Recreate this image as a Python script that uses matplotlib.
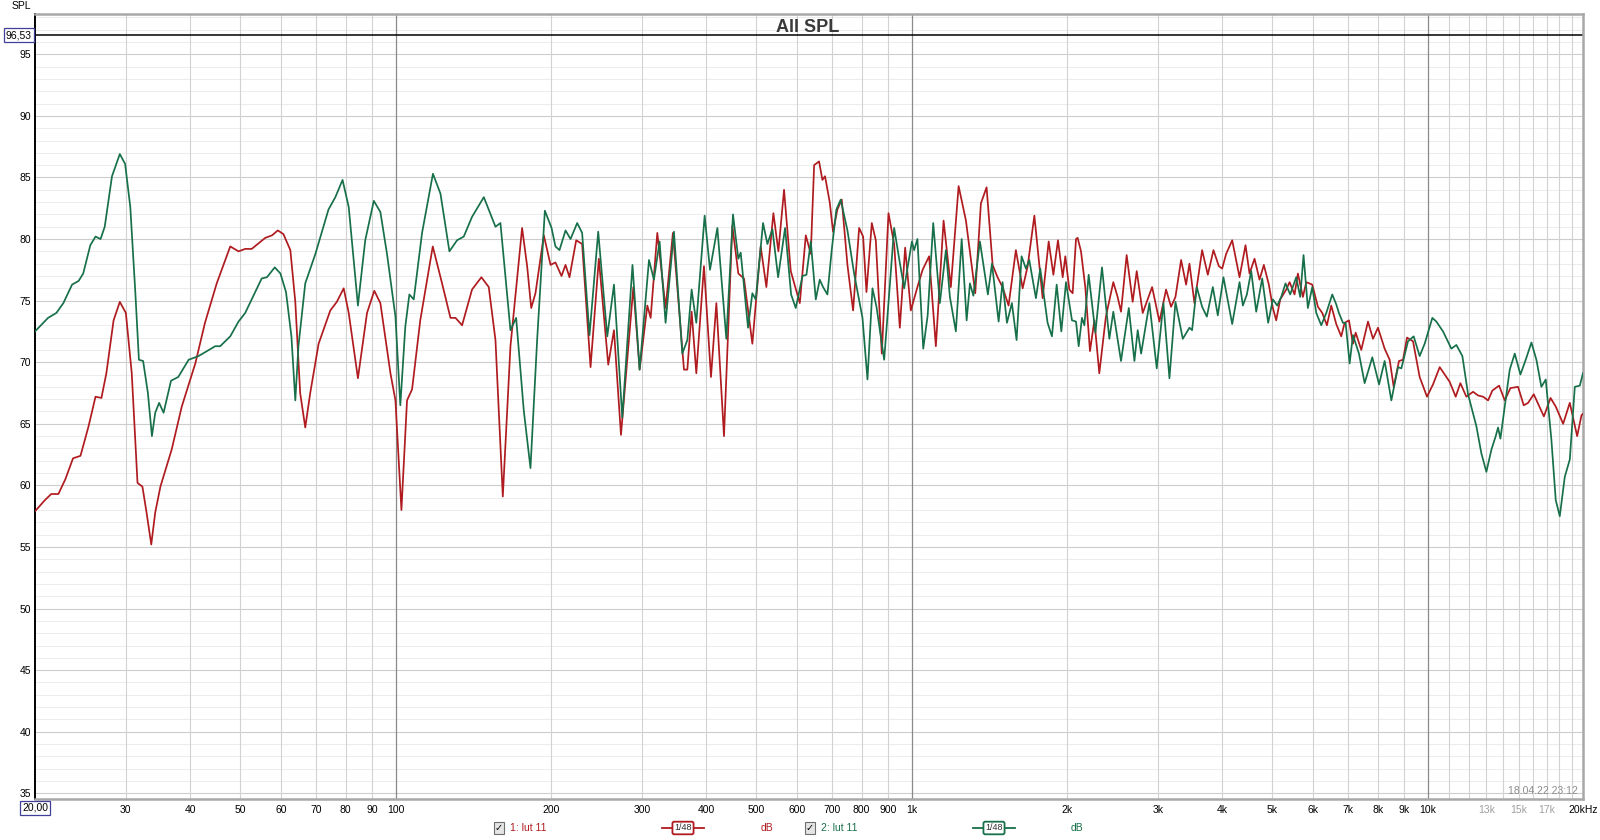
import matplotlib.pyplot as plt
from matplotlib.lines import Line2D

plt.rcParams['font.family'] = ['Liberation Sans', 'DejaVu Sans']

# measurement 1 (red) : (frequency Hz, SPL dB)
red_pts = [
    (20, 57.9), (20.9, 58.8), (21.5, 59.3), (22.2, 59.3), (22.9, 60.5), (23.7, 62.2), (24.5, 62.4), (25.4, 64.8),
    (26.2, 67.2), (26.9, 67.1), (27.5, 69.1), (28.4, 73.4), (29.2, 74.9), (30.0, 74.0), (30.8, 69.1), (31.6, 60.2),
    (32.3, 59.9), (32.9, 57.8), (33.6, 55.2), (34.2, 57.8), (35.0, 59.9), (36.8, 62.9), (38.5, 66.4), (40.9, 69.9),
    (42.7, 73.2), (45.0, 76.4), (47.8, 79.4), (49.6, 79.0), (51.1, 79.2), (52.6, 79.2), (55.9, 80.1), (57.6, 80.3),
    (59.1, 80.7), (60.6, 80.4), (62.5, 79.1), (63.9, 74.9),
    (65.3, 67.5), (66.8, 64.7), (68.3, 67.5), (70.9, 71.5), (74.7, 74.2), (76.9, 74.9), (79.3, 76.0), (81.1, 74.0),
    (84.5, 68.7), (88.0, 74.0), (90.9, 75.8), (93.4, 74.8), (97.7, 69.1), (99.9, 66.9), (102.6, 58.0), (105.2, 66.9),
    (107.6, 67.8), (111.6, 73.4), (118.0, 79.4), (123.0, 76.4), (127.7, 73.6), (130.6, 73.6), (134.5, 73.0),
    (140.6, 75.9), (146.6, 76.9), (151.5, 76.1), (156.1, 71.8), (161.3, 59.1), (166.9, 71.3), (175.8, 80.9),
    (179.8, 77.8), (183.1, 74.4), (186.6, 75.6), (193.7, 80.3), (199.6, 77.9), (204.0, 78.1),
    (209.6, 77.0), (213.4, 77.9), (217.2, 76.9), (223.8, 79.9), (229.8, 79.6), (238.6, 69.6), (247.6, 78.4),
    (258.2, 69.8), (264.9, 72.6), (273.3, 64.1), (288.8, 76.1), (297.0, 69.4), (307.4, 74.6), (312.0, 73.6),
    (321.4, 80.5), (333.5, 74.4), (344.6, 80.5), (362.0, 69.4), (367.5, 69.4), (374.6, 74.1), (382.5, 69.1),
    (395.8, 77.8), (408.4, 68.8), (418.3, 74.8), (432.8, 64.0), (449.2, 81.1), (461.4, 77.2), (473.2, 76.8),
    (491.2, 71.5), (509.8, 79.4), (522.9, 76.1), (539.5, 82.1), (551.7, 79.0), (565.8, 84.0), (583.0, 77.4),
    (607.0, 74.8), (623.5, 80.3), (637.5, 78.8), (647.1, 86.0),
    (661.5, 86.3), (671.4, 84.8), (679.4, 85.1), (693.7, 83.0), (704.1, 80.6), (717.9, 82.4), (732.0, 83.2),
    (750.8, 77.9), (770.0, 74.2), (791.0, 80.9), (805.2, 80.2), (817.3, 75.7), (837.0, 81.3), (852.1, 79.9),
    (875.2, 70.7), (901.7, 82.1), (924.8, 79.6), (948.5, 72.8), (971.3, 79.3), (996.3, 74.2), (1026, 76.1),
    (1050, 77.5), (1081, 78.6), (1114, 71.3), (1153, 81.5), (1191, 76.1), (1233, 84.3), (1274, 81.5),
    (1328, 75.6), (1362, 82.9), (1397, 84.2), (1435, 77.9), (1467, 76.9), (1500, 76.1), (1541, 74.6),
    (1592, 79.1), (1641, 76.0), (1678, 77.8), (1729, 81.9), (1794, 75.2), (1843, 79.8), (1882, 77.1),
    (1921, 79.9), (1962, 76.9), (1985, 78.6), (2021, 75.9), (2051, 75.6), (2082, 80.0),
    (2097, 80.1), (2129, 79.0), (2170, 76.1), (2216, 70.9), (2260, 73.4), (2310, 69.1), (2379, 73.7),
    (2459, 76.5), (2507, 75.3), (2545, 74.1), (2610, 78.7), (2681, 74.9), (2730, 77.4), (2804, 74.0),
    (2924, 76.1), (3021, 73.3), (3112, 75.9), (3182, 74.5), (3245, 75.3), (3328, 78.3), (3403, 76.3),
    (3454, 78.0), (3532, 74.8), (3655, 79.1), (3749, 77.1), (3845, 79.1), (3938, 77.8), (3997, 77.6),
    (4069, 78.8), (4180, 79.9), (4319, 76.9), (4436, 79.5), (4516, 77.2), (4618, 78.4), (4722, 76.7),
    (4814, 77.9), (4923, 76.3), (5012, 74.4), (5087, 73.4), (5179, 75.1), (5320, 75.9), (5400, 76.5),
    (5521, 75.5), (5604, 77.2), (5731, 75.3), (5817, 76.5), (5975, 76.3), (6128, 74.5), (6248, 74.0),
    (6379, 73.0), (6503, 74.6), (6650, 73.1),
    (6800, 72.1), (6903, 73.2), (7038, 73.4), (7165, 71.5), (7252, 72.4), (7436, 71.0), (7662, 73.3),
    (7835, 71.9), (8011, 72.8), (8253, 71.1), (8440, 70.2), (8593, 68.0), (8799, 70.1), (8958, 70.2),
    (9120, 72.0), (9367, 71.7), (9649, 68.8), (9970, 67.2), (10242, 68.2), (10552, 69.6), (10791, 69.0),
    (11034, 68.4), (11332, 67.2), (11571, 68.3), (11885, 67.2), (12246, 67.6), (12523, 67.3), (12806, 67.2),
    (13095, 66.9), (13349, 67.7), (13753, 68.1), (14105, 66.9), (14466, 67.9), (14970, 68.0), (15352, 66.5),
    (15654, 66.7), (16054, 67.4), (16797, 65.6), (17303, 67.1), (17710, 66.4), (18303, 65.0), (18855, 66.7),
    (19484, 64.0), (19868, 65.7), (20000, 65.8),
]

# measurement 2 (green)
green_pts = [
    (20, 72.5), (21.2, 73.6), (22.0, 74.0), (22.7, 74.8), (23.6, 76.3), (24.3, 76.6), (24.8, 77.2), (25.6, 79.5),
    (26.2, 80.2), (26.8, 80.0), (27.3, 81.0), (28.2, 85.1), (29.2, 86.9), (29.9, 86.1), (30.6, 82.6), (31.3, 75.6),
    (31.8, 70.2), (32.4, 70.1), (33.1, 67.5), (33.7, 64.0), (34.2, 65.9), (34.8, 66.7), (35.5, 65.9), (36.7, 68.5),
    (37.9, 68.8), (39.7, 70.2), (41.5, 70.5), (44.7, 71.3), (45.7, 71.3), (47.8, 72.1), (49.6, 73.3), (51.1, 74.0),
    (55.0, 76.8), (56.3, 76.9), (58.3, 77.7), (59.8, 77.2), (61.3, 75.7), (62.8, 72.1), (63.9, 66.9),
    (64.8, 71.3), (66.8, 76.4), (69.9, 78.8), (74.1, 82.4), (76.4, 83.4), (78.9, 84.8), (81.1, 82.6), (84.5, 74.6),
    (87.3, 79.9), (90.7, 83.1), (93.4, 82.2), (96.2, 78.8), (99.9, 73.7), (102.1, 66.5), (104.4, 72.9),
    (106.3, 75.5), (108.4, 75.1), (112.5, 80.5), (118.1, 85.3), (122.1, 83.7), (127.1, 79.0), (131.5, 79.9),
    (135.5, 80.2), (140.6, 81.8), (148.2, 83.4), (156.1, 81.0), (159.6, 81.3), (166.9, 72.6), (171.2, 73.6),
    (177.1, 66.1), (182.5, 61.4), (188.0, 71.8), (194.6, 82.3), (200.5, 80.9), (204.0, 79.4),
    (207.7, 79.1), (213.4, 80.7), (218.2, 80.0), (224.8, 81.3), (229.8, 80.5), (237.5, 72.2), (246.9, 80.6),
    (257.1, 72.1), (264.9, 76.3), (274.9, 65.5), (287.7, 77.9), (297.0, 69.4), (309.7, 78.3), (316.6, 76.7),
    (324.7, 79.8), (333.5, 73.2), (346.2, 80.6), (359.3, 70.7), (367.5, 71.8), (374.6, 75.9), (382.5, 73.2),
    (397.0, 81.9), (406.6, 77.5), (420.2, 80.9), (437.3, 71.9), (450.5, 82.0), (461.4, 78.4), (466.3, 78.9),
    (481.8, 72.8), (491.2, 75.6), (498.6, 75.1), (515.2, 81.3), (525.3, 79.6), (537.2, 80.8), (551.0, 76.9),
    (568.4, 80.9), (583.9, 75.5), (596.2, 74.4), (614.3, 77.0), (625.3, 77.1), (637.5, 79.8), (651.9, 75.1),
    (663.5, 76.7), (673.5, 76.1), (686.6, 75.5), (699.9, 79.1), (714.6, 82.4), (728.6, 83.2), (750.8, 80.7),
    (773.5, 77.2), (802.9, 73.6), (821.0, 68.6), (839.5, 76.0), (854.7, 74.5), (884.5, 70.2), (924.8, 80.9),
    (945.7, 78.4), (967.1, 76.0), (1001, 79.8), (1011, 79.1), (1026, 80.0), (1053, 71.1), (1074, 73.8),
    (1101, 81.3), (1134, 74.8), (1165, 79.1), (1186, 75.3), (1218, 72.5), (1250, 80.0), (1278, 73.4),
    (1297, 76.4), (1317, 75.4), (1356, 79.8), (1405, 75.5), (1431, 78.0), (1474, 73.3), (1500, 76.5),
    (1530, 73.2), (1564, 74.8), (1597, 71.8), (1633, 78.6), (1665, 77.6), (1690, 78.3), (1741, 75.2),
    (1775, 77.6), (1834, 73.2), (1870, 72.1), (1910, 76.3), (1950, 72.5), (1991, 76.5), (2045, 73.4),
    (2082, 73.3),
    (2107, 71.3), (2138, 73.6), (2161, 73.0), (2203, 77.1), (2270, 72.4), (2338, 77.7), (2416, 71.9),
    (2459, 74.1), (2545, 70.1), (2635, 74.4), (2702, 70.1), (2742, 72.6), (2784, 70.7), (2889, 74.8),
    (2985, 69.5), (3075, 74.8), (3159, 68.7), (3245, 74.9), (3353, 71.9), (3454, 72.8), (3495, 72.6),
    (3569, 76.1), (3655, 74.5), (3733, 73.7), (3834, 76.1), (3920, 73.8), (4020, 76.9), (4180, 73.1),
    (4319, 76.5), (4384, 74.6), (4463, 75.5), (4550, 77.4), (4653, 74.1), (4779, 76.8), (4908, 73.2),
    (5012, 75.1), (5110, 74.6), (5202, 75.3), (5303, 76.4), (5415, 75.5), (5562, 76.9), (5662, 75.3),
    (5747, 78.7), (5859, 74.4), (5975, 76.1), (6083, 74.0), (6220, 73.0), (6361, 74.0), (6533, 75.5),
    (6650, 74.7),
    (6730, 74.0), (6852, 73.2), (6934, 73.2), (7059, 69.9), (7165, 72.2), (7359, 70.7), (7548, 68.3),
    (7811, 70.4), (8050, 68.2), (8253, 70.1), (8503, 66.9), (8760, 69.6), (8892, 69.5), (9160, 71.7),
    (9395, 72.1), (9649, 70.5), (9867, 71.5), (10211, 73.6), (10395, 73.3), (10710, 72.5), (11115, 71.1),
    (11366, 71.4), (11675, 70.5), (11975, 67.4), (12428, 64.8), (12708, 62.6), (12995, 61.1), (13289, 62.9),
    (13549, 64.0), (13690, 64.7), (13835, 63.8), (14105, 66.4), (14423, 69.4), (14749, 70.7), (15126, 69.0),
    (15490, 70.2), (15887, 71.6), (16245, 70.2), (16611, 68.0), (16936, 68.6), (17370, 63.7), (17710, 58.8),
    (18031, 57.5), (18439, 60.7), (18855, 62.1), (19281, 68.0), (19717, 68.1), (20000, 69.1),
]

y_ticks = [35, 40, 45, 50, 55, 60, 65, 70, 75, 80, 85, 90, 95]
x_ticks = [30, 40, 50, 60, 70, 80, 90, 100, 200, 300, 400, 500, 600, 700, 800, 900, 1000,
           2000, 3000, 4000, 5000, 6000, 7000, 8000, 9000, 10000, 13000, 15000, 17000, 20000]
x_labels = ['30', '40', '50', '60', '70', '80', '90', '100', '200', '300', '400', '500', '600',
            '700', '800', '900', '1k', '2k', '3k', '4k', '5k', '6k', '7k', '8k', '9k', '10k',
            '13k', '15k', '17k', '20kHz']
grid_light = [30, 40, 50, 60, 70, 80, 90, 200, 300, 400, 500, 600, 700, 800, 900,
              2000, 3000, 4000, 5000, 6000, 7000, 8000, 9000,
              11000, 12000, 13000, 14000, 15000, 16000, 17000, 18000, 19000]
grid_dark = [100, 1000, 10000]

RED = '#b01b1f'
GREEN = '#17704a'
W, H = 1600, 840


def fx(px):
    return px / W


def fy(py):
    return 1 - py / H


fig = plt.figure(figsize=(16, 8.4), dpi=100)
ax = fig.add_axes([fx(35), fy(799), 1548 / W, 785 / H])
ax.set_xscale('log')
ax.set_xlim(20, 20000)
ax.set_ylim(34.54, 98.27)

# grid
for v in range(35, 99):
    if v % 5 == 0:
        ax.axhline(v, color='#cdcdcd', lw=0.8, zorder=0)
    else:
        ax.axhline(v, color='#ececec', lw=0.7, zorder=0)
for f in grid_light:
    ax.axvline(f, color='#d2d2d2', lw=0.8, zorder=0)
for f in grid_dark:
    ax.axvline(f, color='#8a8a8a', lw=0.9, zorder=0)
ax.axhline(96.53, color='black', lw=1.1, zorder=1)

# curves
rf, rdb = zip(*red_pts)
gf, gdb = zip(*green_pts)
ax.plot(rf, rdb, color=RED, lw=1.25, zorder=3)
ax.plot(gf, gdb, color=GREEN, lw=1.25, zorder=3)

# axes / ticks
ax.set_yticks(y_ticks)
ax.set_yticklabels([str(v) for v in y_ticks], fontsize=7.5)
ax.set_xticks(x_ticks)
ax.set_xticklabels(x_labels, fontsize=7.5)
ax.xaxis.set_minor_locator(plt.NullLocator())
ax.tick_params(axis='both', length=0)
ax.tick_params(axis='x', pad=4)
ax.tick_params(axis='y', pad=3)
for lbl in ax.get_xticklabels():
    if lbl.get_text() in ('13k', '15k', '17k'):
        lbl.set_color('#a0a0a0')
for side in ['top', 'right', 'bottom']:
    ax.spines[side].set_color('#a8a8a8')
    ax.spines[side].set_linewidth(1.8)
ax.spines['left'].set_color('black')
ax.spines['left'].set_linewidth(1.4)

# texts
box = dict(boxstyle='square,pad=0.15', fc='white', ec='#40409a', lw=0.9)
fig.text(fx(19), fy(35), '96,53', fontsize=7.5, ha='center', va='center', bbox=box)
fig.text(fx(35), fy(808), '20,00', fontsize=7.5, ha='center', va='center', bbox=box)
fig.text(fx(21), fy(6), 'SPL', fontsize=7.5, ha='center', va='center')
fig.text(fx(808), fy(27), 'All SPL', fontsize=13, fontweight='bold', color='#3a3a3a',
         ha='center', va='center')
fig.text(fx(1578), fy(791), '18.04.22 23:12', fontsize=7.5, color='#8c8c8c', ha='right', va='center')

# legend row
ly = fy(828)
chk = dict(boxstyle='square,pad=0.1', fc='#e4e4e4', ec='#6e6e6e', lw=0.8)
for x0, col, name in [(499, RED, '1: lut 11'), (810, GREEN, '2: lut 11')]:
    fig.text(fx(x0), ly, '✓', fontsize=7, ha='center', va='center', bbox=chk)
    fig.text(fx(x0 + 11), ly, name, fontsize=7.5, color=col, ha='left', va='center')
for xc, col in [(683, RED), (994, GREEN)]:
    fig.add_artist(Line2D([fx(xc - 21), fx(xc + 21)], [ly, ly], color=col, lw=1.3))
    fig.text(fx(xc), ly, '1/48', fontsize=6.5, ha='center', va='center', color='#333333',
             bbox=dict(boxstyle='round,pad=0.2', fc='white', ec=col, lw=1.3), zorder=5)
fig.text(fx(767), ly, 'dB', fontsize=7.5, color=RED, ha='center', va='center')
fig.text(fx(1077), ly, 'dB', fontsize=7.5, color=GREEN, ha='center', va='center')

fig.savefig('out.png', dpi=100)
